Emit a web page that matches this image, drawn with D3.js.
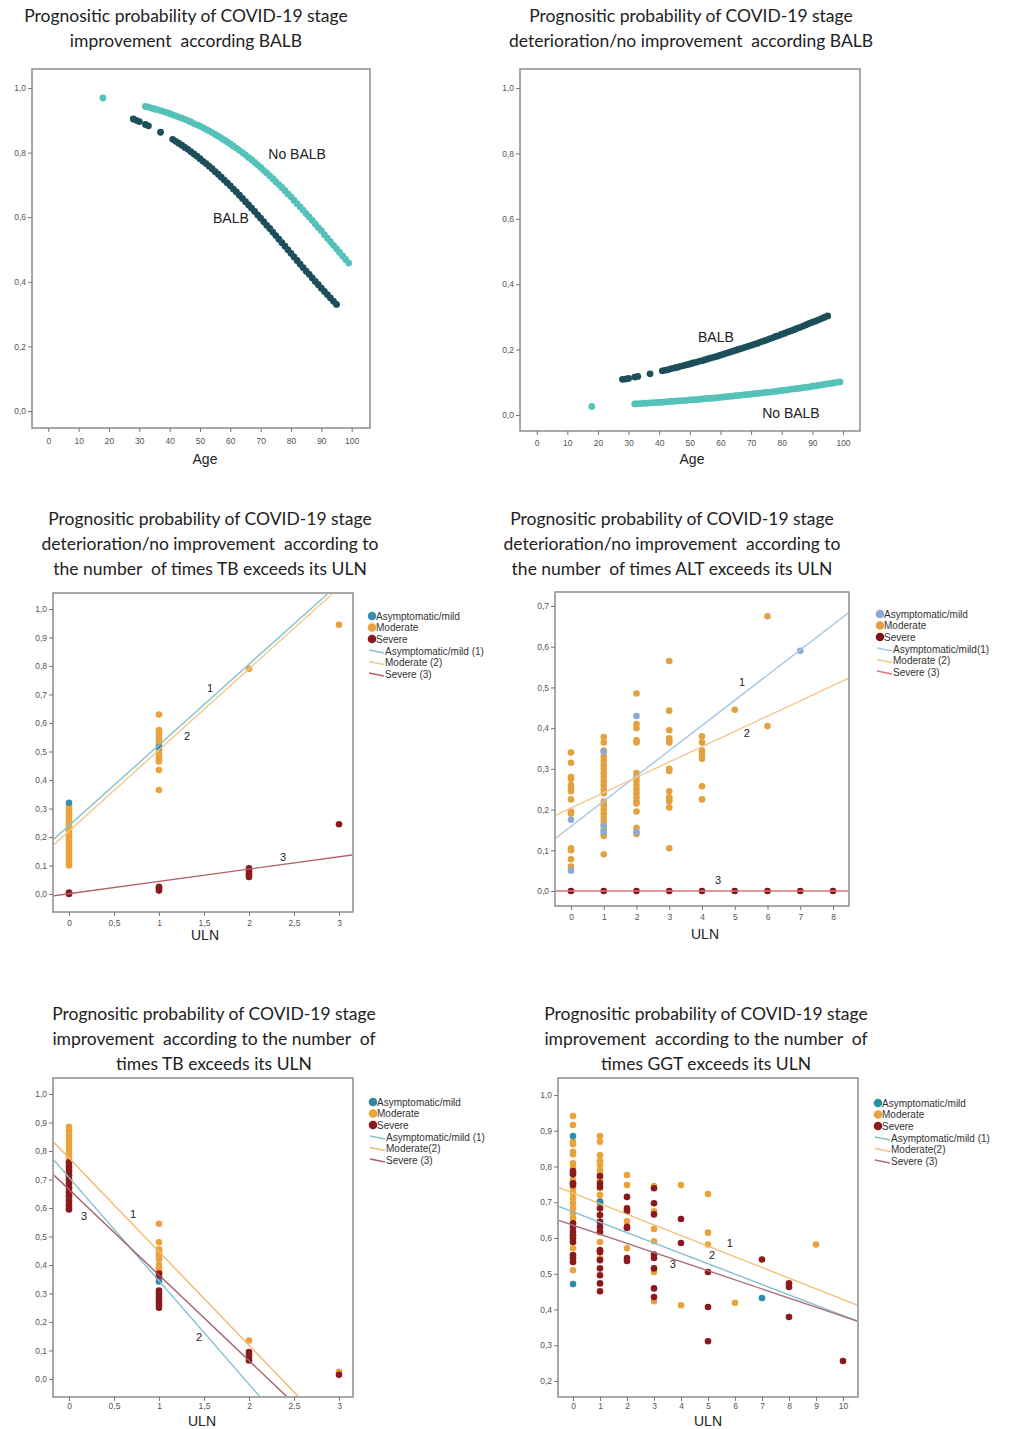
<!DOCTYPE html>
<html><head><meta charset="utf-8">
<script src="https://cdn.jsdelivr.net/npm/d3@7"></script>
<style>body{margin:0;background:#fff;} svg{display:block;font-family:"Liberation Sans",Arial,sans-serif;}</style>
</head><body><svg id="c" width="1014" height="1429"></svg>
<script>
// ---------- Panel 1 & 2 : age curves ----------
const agesBalb = [28,29,30,32,33,37,41,42,43,44,45,46,47,48,49,50,51,52,53,54,55,56,57,58,59,60,61,62,63,64,65,66,67,68,69,70,71,72,73,74,75,76,77,78,79,80,81,82,83,84,85,86,87,88,89,90,91,92,93,94,95];
const agesNoBalb = [18,32,33,34,35,36,37,38,39,40,41,42,43,44,45,46,47,48,49,50,51,52,53,54,55,56,57,58,59,60,61,62,63,64,65,66,67,68,69,70,71,72,73,74,75,76,77,78,79,80,81,82,83,84,85,86,87,88,89,90,91,92,93,94,95,96,97,98,99];
const impBalb = [0.904,0.900,0.896,0.887,0.883,0.863,0.841,0.835,0.829,0.823,0.816,0.810,0.803,0.796,0.789,0.781,0.773,0.766,0.758,0.750,0.741,0.733,0.724,0.715,0.706,0.697,0.687,0.678,0.668,0.658,0.648,0.638,0.628,0.618,0.607,0.597,0.586,0.575,0.565,0.554,0.543,0.532,0.521,0.510,0.499,0.488,0.477,0.466,0.455,0.444,0.433,0.423,0.412,0.401,0.391,0.380,0.370,0.360,0.350,0.340,0.330];
const impNoBalb = [0.969,0.943,0.941,0.938,0.935,0.933,0.930,0.927,0.924,0.921,0.917,0.914,0.910,0.907,0.903,0.899,0.895,0.890,0.886,0.882,0.877,0.872,0.867,0.862,0.856,0.851,0.845,0.839,0.833,0.827,0.820,0.814,0.807,0.800,0.793,0.785,0.778,0.770,0.762,0.754,0.745,0.737,0.728,0.719,0.710,0.701,0.692,0.682,0.672,0.663,0.652,0.642,0.632,0.622,0.611,0.601,0.590,0.579,0.568,0.558,0.546,0.535,0.524,0.513,0.502,0.491,0.480,0.469,0.458];
const detBalb = [0.109,0.110,0.112,0.116,0.118,0.126,0.135,0.137,0.139,0.142,0.144,0.146,0.149,0.151,0.154,0.156,0.159,0.161,0.164,0.166,0.169,0.172,0.175,0.177,0.180,0.183,0.186,0.189,0.192,0.195,0.198,0.201,0.204,0.207,0.210,0.213,0.216,0.219,0.223,0.226,0.229,0.233,0.236,0.240,0.243,0.247,0.250,0.254,0.257,0.261,0.265,0.268,0.272,0.276,0.280,0.284,0.287,0.291,0.295,0.299,0.303];
const detNoBalb = [0.026,0.034,0.035,0.035,0.036,0.036,0.037,0.038,0.038,0.039,0.039,0.040,0.041,0.042,0.042,0.043,0.044,0.044,0.045,0.046,0.047,0.047,0.048,0.049,0.050,0.051,0.051,0.052,0.053,0.054,0.055,0.056,0.057,0.058,0.059,0.060,0.061,0.062,0.063,0.064,0.065,0.066,0.067,0.068,0.069,0.070,0.071,0.072,0.074,0.075,0.076,0.077,0.079,0.080,0.081,0.082,0.084,0.085,0.086,0.088,0.089,0.091,0.092,0.094,0.095,0.097,0.098,0.100,0.101];
const ageTicks = [0,10,20,30,40,50,60,70,80,90,100];
const probTicks = [0,0.2,0.4,0.6,0.8,1.0];

// ---------- Panel 3 : TB deterioration ----------
const tbDetModerate = [[0,0.10],[0,0.11],[0,0.12],[0,0.13],[0,0.14],[0,0.15],[0,0.16],[0,0.17],[0,0.18],[0,0.19],[0,0.20],[0,0.21],[0,0.22],[0,0.23],[0,0.24],[0,0.25],[0,0.26],[0,0.27],[0,0.28],[0,0.29],[0,0.30],[0,0.31],
  [1,0.63],[1,0.575],[1,0.565],[1,0.555],[1,0.545],[1,0.535],[1,0.525],[1,0.515],[1,0.505],[1,0.495],[1,0.485],[1,0.475],[1,0.465],[1,0.435],[1,0.365],
  [2,0.79],[3,0.945]];
const tbDetAsym = [[0,0.32],[1,0.515]];
const tbDetSevere = [[0,0.0],[0,0.005],[1,0.012],[1,0.02],[1,0.025],[2,0.06],[2,0.068],[2,0.076],[2,0.084],[2,0.09],[3,0.245]];
const tbDetFit = [[0.240,0.283],[0.221,0.2845],[0.001,0.0432]]; // [intercept, slope] for (1),(2),(3)
const tbDetLabels = [["1",1.567,0.723],["2",1.311,0.554],["3",2.378,0.130]];
const ulnTicks3 = [0,0.5,1,1.5,2,2.5,3];
const probTicks10 = [0,0.1,0.2,0.3,0.4,0.5,0.6,0.7,0.8,0.9,1.0];

// ---------- Panel 4 : ALT deterioration ----------
const altModerate = [[0,0.34],[0,0.315],[0,0.28],[0,0.275],[0,0.26],[0,0.25],[0,0.245],[0,0.225],[0,0.195],[0,0.19],[0,0.105],[0,0.10],[0,0.078],[0,0.06],
  [1,0.378],[1,0.365],[1,0.345],[1,0.33],[1,0.32],[1,0.31],[1,0.30],[1,0.29],[1,0.28],[1,0.27],[1,0.26],[1,0.25],[1,0.24],[1,0.22],[1,0.21],[1,0.20],[1,0.19],[1,0.18],[1,0.17],[1,0.16],[1,0.15],[1,0.14],[1,0.135],[1,0.09],
  [2,0.485],[2,0.41],[2,0.40],[2,0.37],[2,0.365],[2,0.29],[2,0.28],[2,0.27],[2,0.26],[2,0.25],[2,0.24],[2,0.23],[2,0.22],[2,0.215],[2,0.195],[2,0.155],[2,0.14],
  [3,0.565],[3,0.443],[3,0.395],[3,0.375],[3,0.37],[3,0.365],[3,0.30],[3,0.295],[3,0.245],[3,0.23],[3,0.225],[3,0.22],[3,0.205],[3,0.105],
  [4,0.38],[4,0.365],[4,0.345],[4,0.335],[4,0.325],[4,0.257],[4,0.225],
  [5,0.445],[6,0.675],[6,0.405]];
const altAsym = [[0,0.175],[0,0.05],[1,0.342],[1,0.16],[1,0.145],[2,0.43],[2,0.145],[7,0.59]];
const altSevere = [[0,0],[1,0],[2,0],[3,0],[4,0],[5,0],[6,0],[7,0],[8,0]];
const altFit = [[0.159,0.0619],[0.204,0.0376],[0,0]];
const altLabels = [["1",5.22,0.513],["2",5.37,0.388],["3",4.49,0.027]];
const ulnTicks8 = [0,1,2,3,4,5,6,7,8];
const probTicks07 = [0,0.1,0.2,0.3,0.4,0.5,0.6,0.7];

// ---------- Panel 5 : TB improvement ----------
const tbImpModerate = [[0,0.885],[0,0.87],[0,0.855],[0,0.84],[0,0.825],[0,0.81],[0,0.795],[0,0.78],[0,0.765],[0,0.75],[0,0.735],[0,0.72],[0,0.705],[0,0.69],[0,0.675],[0,0.66],[0,0.645],[0,0.63],[0,0.615],[0,0.60],
  [1,0.545],[1,0.48],[1,0.455],[1,0.45],[1,0.44],[1,0.43],[1,0.42],[1,0.40],[1,0.39],[1,0.38],[1,0.37],[1,0.36],
  [2,0.135],[3,0.025]];
const tbImpSevere = [[0,0.76],[0,0.745],[0,0.73],[0,0.715],[0,0.70],[0,0.685],[0,0.67],[0,0.655],[0,0.64],[0,0.625],[0,0.61],[0,0.595],
  [1,0.37],[1,0.355],[1,0.31],[1,0.30],[1,0.29],[1,0.28],[1,0.27],[1,0.26],[1,0.25],
  [2,0.095],[2,0.085],[2,0.075],[2,0.065],[3,0.015]];
const tbImpAsym = [[1,0.342]];
const tbImpFit = [[0.707,-0.3626],[0.775,-0.3283],[0.665,-0.3003]];
const tbImpLabels = [["1",0.711,0.579],["2",1.444,0.147],["3",0.167,0.572]];

// ---------- Panel 6 : GGT improvement ----------
const ggtModerate = [[0,0.941],[0,0.916],[0,0.869],[0,0.862],[0,0.841],[0,0.834],[0,0.809],[0,0.799],[0,0.781],[0,0.762],[0,0.753],[0,0.739],[0,0.725],[0,0.711],[0,0.697],[0,0.683],[0,0.669],[0,0.655],[0,0.641],[0,0.627],[0,0.608],[0,0.589],[0,0.571],[0,0.533],[0,0.510],
  [1,0.885],[1,0.869],[1,0.832],[1,0.815],[1,0.804],[1,0.790],[1,0.776],[1,0.759],[1,0.739],[1,0.720],[1,0.701],[1,0.683],[1,0.664],[1,0.645],[1,0.617],[1,0.589],[1,0.561],[1,0.543],
  [2,0.776],[2,0.748],[2,0.678],[2,0.647],[2,0.571],
  [3,0.745],[3,0.675],[3,0.625],[3,0.591],[3,0.505],[3,0.423],
  [4,0.748],[4,0.412],[5,0.723],[5,0.615],[5,0.582],[6,0.419],[9,0.582]];
const ggtSevere = [[0,0.787],[0,0.778],[0,0.753],[0,0.748],[0,0.641],[0,0.631],[0,0.617],[0,0.608],[0,0.599],[0,0.589],[0,0.552],[0,0.543],[0,0.533],
  [1,0.773],[1,0.753],[1,0.743],[1,0.701],[1,0.683],[1,0.664],[1,0.645],[1,0.631],[1,0.617],[1,0.566],[1,0.561],[1,0.538],[1,0.515],[1,0.496],[1,0.473],[1,0.451],
  [2,0.715],[2,0.683],[2,0.675],[2,0.631],[2,0.628],[2,0.544],[2,0.536],
  [3,0.739],[3,0.697],[3,0.666],[3,0.554],[3,0.544],[3,0.515],[3,0.459],[3,0.435],
  [4,0.653],[4,0.586],[5,0.505],[5,0.407],[5,0.311],[7,0.540],[8,0.473],[8,0.463],[8,0.379],[10,0.256]];
const ggtAsym = [[0,0.885],[0,0.471],[1,0.70],[7,0.432]];
const ggtFit = [[0.673,-0.029],[0.726,-0.0298],[0.636,-0.0255]];
const ggtLabels = [["1",5.81,0.586],["2",5.15,0.552],["3",3.70,0.527]];
const ulnTicks10 = [0,1,2,3,4,5,6,7,8,9,10];
const probTicks210 = [0.2,0.3,0.4,0.5,0.6,0.7,0.8,0.9,1.0];

const legendDots = ["Asymptomatic/mild","Moderate","Severe"];

// ---------- drawing ----------
const svg = d3.select("#c");
const comma = d => String(d).replace(".", ",");
const fmt1 = d => d3.format(".1f")(d).replace(".", ",");

function panel(cfg){
  const g = svg.append("g");
  const [L,T,R,B] = cfg.box;
  const x = d3.scaleLinear().domain(cfg.xd).range(cfg.xr);
  const y = d3.scaleLinear().domain(cfg.yd).range(cfg.yr);
  cfg.title.forEach((t,i)=>{
    g.append("text").attr("x",cfg.tx).attr("y",cfg.ty+i*25).attr("text-anchor","middle")
     .attr("dominant-baseline","central").style("white-space","pre")
     .style("font-family","Lato, 'Open Sans', sans-serif").style("font-size","17.5px").attr("fill","#222").text(t);
  });
  g.append("rect").attr("x",L).attr("y",T).attr("width",R-L).attr("height",B-T)
   .attr("fill","#fff").attr("stroke","#8c8c8c").attr("stroke-width",1.5);
  const ya = g.append("g").attr("transform",`translate(${L},0)`)
    .call(d3.axisLeft(y).tickValues(cfg.yt).tickFormat(fmt1).tickSize(4).tickPadding(2));
  const xa = g.append("g").attr("transform",`translate(0,${B})`)
    .call(d3.axisBottom(x).tickValues(cfg.xt).tickFormat(comma).tickSize(4).tickPadding(cfg.xpad||4));
  [ya,xa].forEach(a=>{
    a.select(".domain").remove();
    a.selectAll("line").attr("stroke","#777");
    a.selectAll("text").attr("fill","#555").style("font-size","8.5px");
  });
  g.append("text").attr("x",cfg.lx).attr("y",cfg.ly).attr("text-anchor","middle").attr("dominant-baseline","central")
   .style("font-size","14px").attr("fill","#222").text(cfg.xlabel);
  const cid = "clip"+cfg.id;
  g.append("clipPath").attr("id",cid).append("rect").attr("x",L+1).attr("y",T+1).attr("width",R-L-2).attr("height",B-T-2);
  const plot = g.append("g").attr("clip-path",`url(#${cid})`);
  cfg.series.forEach(s=>{
    plot.append("g").selectAll("circle").data(s.data).join("circle")
      .attr("cx",d=>x(d[0])).attr("cy",d=>y(d[1])).attr("r",s.r||3.3).attr("fill",s.color);
  });
  const x0 = x.invert(L), x1 = x.invert(R);
  (cfg.fits||[]).forEach((f,i)=>{
    plot.append("line").attr("x1",x(x0)).attr("y1",y(f[0]+f[1]*x0)).attr("x2",x(x1)).attr("y2",y(f[0]+f[1]*x1))
      .attr("stroke",cfg.lineColors[i]).attr("stroke-width",1.4);
  });
  (cfg.labels||[]).forEach(l=>{
    g.append("text").attr("x",x(l[1])).attr("y",y(l[2])).attr("text-anchor","middle").attr("dominant-baseline","central")
      .style("font-size",cfg.labelSize||"11px").attr("fill","#222").text(l[0]);
  });
  if(cfg.legend){
    const lg = cfg.legend;
    const lgG = g.append("g").style("font-size","10px").attr("fill","#333");
    legendDots.forEach((t,i)=>{
      const yy = lg.y + i*11.5;
      lgG.append("circle").attr("cx",lg.x).attr("cy",yy).attr("r",4.3).attr("fill",cfg.series.find(s=>s.name===t).color);
      lgG.append("text").attr("x",lg.x+4).attr("y",yy).attr("dominant-baseline","central").text(t);
    });
    lg.lineNames.forEach((t,i)=>{
      const yy = lg.y + 35 + i*11.5;
      lgG.append("line").attr("x1",lg.x-3).attr("y1",yy-1).attr("x2",lg.x+12).attr("y2",yy+2)
        .attr("stroke",cfg.lineColors[i]).attr("stroke-width",1.3);
      lgG.append("text").attr("x",lg.x+13).attr("y",yy).attr("dominant-baseline","central").text(t);
    });
  }
}

const teal = "#55c2b9", darkTeal = "#1d4f5b";
const orange = "#eaa23a", red = "#8a1a1e";

panel({id:1, box:[32,69,370,428], xd:[0,100], xr:[48.3,351.7], yd:[0,1], yr:[411,88],
  xt:ageTicks, yt:probTicks, title:["Prognositic probability of COVID-19 stage","improvement  according BALB"], tx:186, ty:15,
  xlabel:"Age", lx:205, ly:459, xpad:6,
  series:[{name:"No BALB",color:teal,r:3.4,data:agesNoBalb.map((a,i)=>[a,impNoBalb[i]])},
          {name:"BALB",color:darkTeal,r:3.4,data:agesBalb.map((a,i)=>[a,impBalb[i]])}],
  labels:[["No BALB",82,0.796],["BALB",60.2,0.598]], labelSize:"14px"});

panel({id:2, box:[520,69,860,431], xd:[0,100], xr:[536.7,843], yd:[0,1], yr:[415,88],
  xt:ageTicks, yt:probTicks, title:["Prognositic probability of COVID-19 stage","deterioration/no improvement  according BALB"], tx:691, ty:15,
  xlabel:"Age", lx:692, ly:459, xpad:5,
  series:[{name:"No BALB",color:teal,r:3.4,data:agesNoBalb.map((a,i)=>[a,detNoBalb[i]])},
          {name:"BALB",color:darkTeal,r:3.4,data:agesBalb.map((a,i)=>[a,detBalb[i]])}],
  labels:[["BALB",58.5,0.239],["No BALB",83,0.006]], labelSize:"14px"});

panel({id:3, box:[53,593,353,912], xd:[0,3], xr:[69,339], yd:[0,1], yr:[894,609],
  xt:ulnTicks3, yt:probTicks10,
  title:["Prognositic probability of COVID-19 stage","deterioration/no improvement  according to","the number  of times TB exceeds its ULN"], tx:210, ty:518,
  xlabel:"ULN", lx:205, ly:935,
  series:[{name:"Moderate",color:orange,data:tbDetModerate},{name:"Severe",color:red,data:tbDetSevere},{name:"Asymptomatic/mild",color:"#3a8db5",data:tbDetAsym}],
  fits:tbDetFit, lineColors:["#86c2d2","#f1c98c","#b3636d"], labels:tbDetLabels,
  legend:{x:372,y:616,lineNames:["Asymptomatic/mild (1)","Moderate (2)","Severe (3)"]}});

panel({id:4, box:[555,592,849,906], xd:[0,8], xr:[571,833], yd:[0,0.7], yr:[891,606],
  xt:ulnTicks8, yt:probTicks07,
  title:["Prognositic probability of COVID-19 stage","deterioration/no improvement  according to","the number  of times ALT exceeds its ULN"], tx:672, ty:518,
  xlabel:"ULN", lx:705, ly:934,
  series:[{name:"Moderate",color:"#e3a23f",data:altModerate},{name:"Severe",color:"#7d1418",data:altSevere},{name:"Asymptomatic/mild",color:"#8aaad4",data:altAsym}],
  fits:altFit, lineColors:["#a9c6e4","#f0c98f","#e0707a"], labels:altLabels,
  legend:{x:880,y:614,lineNames:["Asymptomatic/mild(1)","Moderate (2)","Severe (3)"]}});

panel({id:5, box:[53,1078,353,1397], xd:[0,3], xr:[69,339], yd:[0,1], yr:[1379,1094],
  xt:ulnTicks3, yt:probTicks10, xpad:2,
  title:["Prognositic probability of COVID-19 stage","improvement  according to the number  of","times TB exceeds its ULN"], tx:214, ty:1013,
  xlabel:"ULN", lx:202, ly:1421,
  series:[{name:"Moderate",color:orange,data:tbImpModerate},{name:"Severe",color:red,data:tbImpSevere},{name:"Asymptomatic/mild",color:"#2f86a6",data:tbImpAsym}],
  fits:tbImpFit, lineColors:["#7fc1cf","#f3b96a","#a65f6c"], labels:tbImpLabels,
  legend:{x:373,y:1102,lineNames:["Asymptomatic/mild (1)","Moderate(2)","Severe (3)"]}});

panel({id:6, box:[558,1078,858,1397], xd:[0,10], xr:[573,843], yd:[0.2,1], yr:[1381,1095],
  xt:ulnTicks10, yt:probTicks210, xpad:2,
  title:["Prognositic probability of COVID-19 stage","improvement  according to the number  of","times GGT exceeds its ULN"], tx:706, ty:1013,
  xlabel:"ULN", lx:708, ly:1421,
  series:[{name:"Moderate",color:orange,data:ggtModerate},{name:"Severe",color:red,data:ggtSevere},{name:"Asymptomatic/mild",color:"#2b8fa5",data:ggtAsym}],
  fits:ggtFit, lineColors:["#84bfd0","#f2c07a","#a8707e"], labels:ggtLabels,
  legend:{x:878,y:1103,lineNames:["Asymptomatic/mild (1)","Moderate(2)","Severe (3)"]}});
</script></body></html>
